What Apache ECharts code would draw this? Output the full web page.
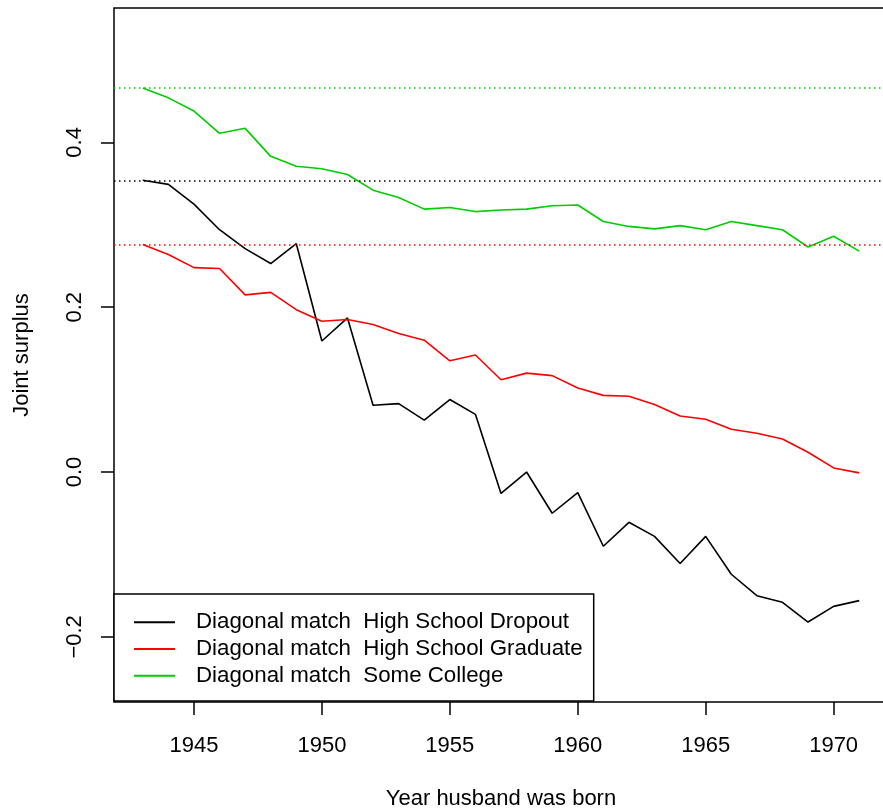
<!DOCTYPE html>
<html>
<head>
<meta charset="utf-8">
<script src="https://cdn.jsdelivr.net/npm/echarts@6/dist/echarts.min.js"></script>
<style>
  html, body { margin: 0; padding: 0; background: #fff; }
  #chart { width: 883px; height: 811px; }
</style>
</head>
<body>
<div id="chart"></div>
<script>
// birth year of husband
var years = [1943, 1944, 1945, 1946, 1947, 1948, 1949, 1950, 1951, 1952,
  1953, 1954, 1955, 1956, 1957, 1958, 1959, 1960, 1961, 1962,
  1963, 1964, 1965, 1966, 1967, 1968, 1969, 1970, 1971];

var dropout = [0.354, 0.349, 0.325, 0.294, 0.271, 0.253, 0.277, 0.159, 0.187, 0.081,
  0.083, 0.063, 0.088, 0.070, -0.026, 0.000, -0.050, -0.025, -0.090, -0.061,
  -0.078, -0.111, -0.078, -0.124, -0.150, -0.158, -0.182, -0.163, -0.156];

var graduate = [0.276, 0.264, 0.248, 0.247, 0.215, 0.218, 0.197, 0.183, 0.185, 0.179,
  0.168, 0.160, 0.135, 0.142, 0.112, 0.120, 0.117, 0.102, 0.093, 0.092,
  0.082, 0.068, 0.064, 0.052, 0.047, 0.040, 0.024, 0.005, -0.001];

var college = [0.466, 0.454, 0.438, 0.411, 0.417, 0.383, 0.371, 0.368, 0.361, 0.342,
  0.333, 0.319, 0.321, 0.316, 0.318, 0.319, 0.323, 0.324, 0.304, 0.298,
  0.295, 0.299, 0.294, 0.304, 0.299, 0.294, 0.273, 0.286, 0.268];

var seriesNames = [
  'Diagonal match  High School Dropout',
  'Diagonal match  High School Graduate',
  'Diagonal match  Some College'
];
var seriesColors = ['#000000', '#ff0000', '#00cd00'];

var xTicks = [1945, 1950, 1955, 1960, 1965, 1970];
var yTicks = [-0.2, 0.0, 0.2, 0.4];

var font = 'Liberation Sans, Arial, Helvetica, sans-serif';

var chart = echarts.init(document.getElementById('chart'));

function makeSeries(name, values, color) {
  return {
    name: name,
    type: 'line',
    data: years.map(function (y, i) { return [y, values[i]]; }),
    symbol: 'none',
    lineStyle: { color: color, width: 1.6 },
    itemStyle: { color: color },
    animation: false,
    // dotted reference line at the first cohort's value
    markLine: {
      silent: true,
      symbol: 'none',
      precision: 4,
      label: { show: false },
      lineStyle: { color: color, type: [1.5, 3.5], width: 1.5 },
      data: [{ yAxis: values[0] }]
    }
  };
}

chart.setOption({
  backgroundColor: '#fff',
  animation: false,
  grid: {
    left: 114,
    top: 8,
    right: -5,
    bottom: 109,
    outerBoundsMode: 'none',
    show: true,
    borderColor: '#000',
    borderWidth: 1.5
  },
  xAxis: {
    type: 'value',
    min: 1941.875,
    max: 1972.125,
    name: 'Year husband was born',
    nameLocation: 'middle',
    nameGap: 86,
    nameTextStyle: { fontFamily: font, fontSize: 22, color: '#000' },
    axisLine: { show: false, onZero: false },
    splitLine: { show: false },
    axisTick: {
      show: true,
      length: 13,
      customValues: xTicks,
      lineStyle: { color: '#000', width: 1.5 }
    },
    axisLabel: {
      customValues: xTicks,
      margin: 33,
      fontFamily: font,
      fontSize: 22,
      color: '#000',
      formatter: function (v) { return String(v); }
    }
  },
  yAxis: {
    type: 'value',
    min: -0.279,
    max: 0.563,
    name: 'Joint surplus',
    nameLocation: 'middle',
    nameRotate: 90,
    nameGap: 81,
    nameTextStyle: { fontFamily: font, fontSize: 22, color: '#000' },
    axisLine: { show: false, onZero: false },
    splitLine: { show: false },
    axisTick: {
      show: true,
      length: 13,
      customValues: yTicks,
      lineStyle: { color: '#000', width: 1.5 }
    },
    axisLabel: {
      customValues: yTicks,
      rotate: 90,
      margin: 28,
      fontFamily: font,
      fontSize: 22,
      color: '#000',
      formatter: function (v) {
        return v.toFixed(1).replace('-', '\u2212');
      }
    }
  },
  legend: {
    orient: 'vertical',
    left: 114,
    top: 594,
    data: seriesNames,
    itemWidth: 41,
    itemHeight: 14,
    itemGap: 0,
    itemStyle: { opacity: 0 },
    padding: [15, 11, 12, 19],
    backgroundColor: '#fff',
    borderColor: '#000',
    borderWidth: 1.5,
    borderRadius: 0,
    selectedMode: false,
    textStyle: {
      fontFamily: font,
      fontSize: 22.3,
      lineHeight: 26.7,
      color: '#000',
      padding: [0, 0, 0, 16]
    }
  },
  series: [
    makeSeries(seriesNames[0], dropout, seriesColors[0]),
    makeSeries(seriesNames[1], graduate, seriesColors[1]),
    makeSeries(seriesNames[2], college, seriesColors[2])
  ]
});
</script>
</body>
</html>
